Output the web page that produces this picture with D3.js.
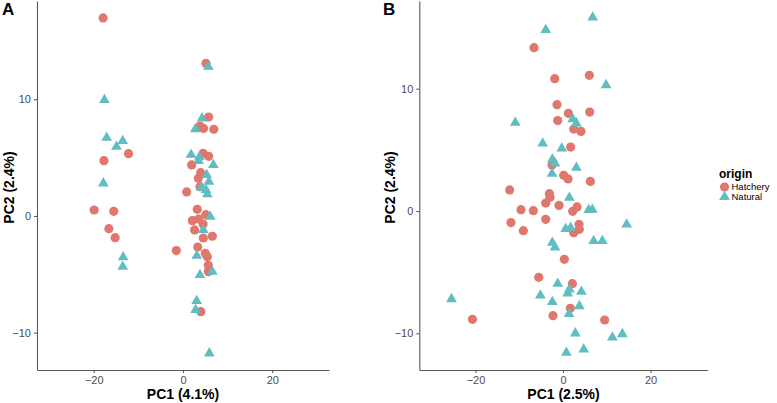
<!DOCTYPE html>
<html>
<head>
<meta charset="utf-8">
<script src="https://cdn.jsdelivr.net/npm/d3@7"></script>
<style>
  html, body { margin: 0; padding: 0; background: #fff; }
  svg { display: block; font-family: "Liberation Sans", Arial, Helvetica, sans-serif; }
</style>
</head>
<body>
<svg id="chart" width="777" height="403"></svg>
<script>
// ---------- data ----------
const panelLabels = ["A", "B"];
const xTitles = ["PC1 (4.1%)", "PC1 (2.5%)"];
const yTitles = ["PC2 (2.4%)", "PC2 (2.4%)"];
const xTicks = [-20, 0, 20];
const yTicks = [-10, 0, 10];
const groups = ["Hatchery", "Natural"];
const legendTitle = "origin";

const hatcheryA = [
  [-17.9,16.97],[5.15,13.08],[5.75,8.48],[3.8,7.7],[4.6,7.5],[6.9,7.43],
  [-17.7,4.74],[-12.2,5.34],[4.5,5.37],[5.75,5.11],[1.94,4.37],[3.96,3.71],
  [3.43,3.23],[3.8,2.51],[0.82,2.06],[-19.9,0.51],[-15.5,0.4],[3.2,0.57],
  [2.1,-0.4],[3.5,-0.26],[5.1,0.11],[4.5,-0.69],[2.6,-1.2],[-16.6,-1.09],
  [-15.2,-1.86],[4.55,-1.89],[6.57,-1.74],[-1.5,-2.97],[3.3,-2.66],[5.0,-3.2],
  [5.45,-3.49],[5.67,-4.23],[5.67,-4.77],[4.0,-8.2]
];
const naturalA = [
  [5.67,12.8],[-17.6,9.94],[4.26,8.37],[2.76,7.43],[-17.1,6.71],[-13.5,6.43],
  [-14.9,5.94],[1.8,5.25],[3.5,4.71],[3.65,5.03],[6.8,4.37],[5.3,3.51],[5.8,2.94],
  [-17.85,2.8],[4.1,2.43],[5.15,2.23],[5.45,1.86],[6.1,-0.06],[4.55,-1.2],
  [-13.4,-3.54],[-13.5,-4.34],[3.1,-3.4],[6.57,-4.77],[3.8,-5.06],
  [3.06,-7.28],[2.83,-8.05],[5.9,-11.77]
];
const hatcheryB = [
  [-6.63,13.35],[6.02,11.09],[-1.9,10.82],[-1.37,8.69],[6.1,8.09],[1.22,7.99],
  [-1.22,7.39],[2.44,6.7],[4.11,6.51],[1.75,5.23],[-2.51,3.76],[0.15,2.92],
  [1.14,2.62],[6.25,2.42],[-12.2,1.72],[-3.12,1.42],[-2.97,1.12],[-3.96,0.65],
  [-0.91,0.46],[-9.6,0.11],[-6.78,0.03],[3.2,0.33],[2.21,-0.03],[-3.96,-0.68],
  [-11.9,-0.95],[3.66,-1.09],[3.73,-1.5],[2.44,-1.77],[-9.07,-1.61],[0.3,-3.95],
  [-5.56,-5.42],[2.13,-5.94],[1.67,-7.96],[-2.29,-8.56],[-20.7,-8.86],[9.52,-8.91]
];
const naturalB = [
  [6.78,15.83],[-3.96,14.8],[9.83,10.3],[-10.9,7.22],[2.21,7.52],[3.05,7.17],
  [-4.65,5.53],[-0.3,5.12],[-2.44,4.22],[-1.83,3.9],[3.05,3.54],[-2.51,3.05],
  [1.45,1.09],[5.87,0.08],[6.7,0.11],[14.55,-1.09],[0.61,-1.47],[1.75,-1.36],
  [7.0,-2.45],[8.99,-2.45],[-2.44,-2.59],[-1.83,-2.97],[-1.22,-5.94],[1.45,-6.4],
  [1.07,-6.73],[4.19,-6.6],[-25.5,-7.2],[-5.18,-6.9],[-2.44,-7.44],[3.73,-7.77],
  [1.37,-8.42],[2.82,-10.0],[11.28,-10.33],[13.56,-10.06],[4.72,-11.31],[0.76,-11.58]
];
const xDomains = [[-32.7, 32.7], [-32.85, 33.07]];
const yDomains = [[-13.2, 18.42], [-13.0, 17.17]];

// ---------- styling / layout ----------
const colors = { Hatchery: "#DF776C", Natural: "#60BDC1" };
const axisColor = "#5a5a5a";
const tickTextColor = "#4d4d4d";
const circleR = 4.6;
const triSize = 50;

const panels = [
  { left: 37, right: 329, top: 1, bottom: 370, labelX: 2, yTitleX: 9,
    hatch: hatcheryA, nat: naturalA },
  { left: 419.3, right: 707.7, top: 1, bottom: 370, labelX: 383, yTitleX: 390,
    hatch: hatcheryB, nat: naturalB }
];

const svg = d3.select("#chart");
const triPath = d3.symbol().type(d3.symbolTriangle).size(triSize)();

panels.forEach((p, i) => {
  const x = d3.scaleLinear().domain(xDomains[i]).range([p.left, p.right]);
  const y = d3.scaleLinear().domain(yDomains[i]).range([p.bottom, p.top]);
  const g = svg.append("g");

  // axes
  const xa = g.append("g").attr("transform", `translate(0,${p.bottom})`)
    .call(d3.axisBottom(x).tickValues(xTicks).tickSize(3).tickPadding(3).tickSizeOuter(0));
  const ya = g.append("g").attr("transform", `translate(${p.left},0)`)
    .call(d3.axisLeft(y).tickValues(yTicks).tickSize(3).tickPadding(3).tickSizeOuter(0));
  [xa, ya].forEach(a => {
    a.select(".domain").attr("stroke", axisColor).attr("stroke-width", 1.1);
    a.selectAll(".tick line").attr("stroke", axisColor).attr("stroke-width", 1.1);
    a.selectAll(".tick text").attr("fill", tickTextColor)
      .style("font-size", "11px").style("font-family", "'Liberation Sans', Arial, sans-serif");
  });

  // points
  g.append("g").selectAll("circle").data(p.hatch).join("circle")
    .attr("cx", d => x(d[0])).attr("cy", d => y(d[1]))
    .attr("r", circleR).attr("fill", colors.Hatchery);
  g.append("g").selectAll("path").data(p.nat).join("path")
    .attr("d", triPath)
    .attr("transform", d => `translate(${x(d[0])},${y(d[1])})`)
    .attr("fill", colors.Natural);

  // titles
  g.append("text").attr("x", (p.left + p.right) / 2).attr("y", 399)
    .attr("text-anchor", "middle").attr("font-weight", "bold").attr("font-size", 14)
    .text(xTitles[i]);
  g.append("text")
    .attr("transform", `translate(${p.yTitleX + 5},${(p.top + p.bottom) / 2 + 2}) rotate(-90)`)
    .attr("text-anchor", "middle").attr("font-weight", "bold").attr("font-size", 14)
    .text(yTitles[i]);
  g.append("text").attr("x", p.labelX).attr("y", 15)
    .attr("font-weight", "bold").attr("font-size", 17)
    .text(panelLabels[i]);
});

// legend
const lg = svg.append("g");
lg.append("text").attr("x", 719).attr("y", 178)
  .attr("font-weight", "bold").attr("font-size", 12).text(legendTitle);
groups.forEach((name, k) => {
  const cy = 187 + k * 10;
  if (k === 0) {
    lg.append("circle").attr("cx", 724.5).attr("cy", cy).attr("r", circleR).attr("fill", colors[name]);
  } else {
    lg.append("path").attr("d", triPath).attr("transform", `translate(724.5,${cy})`).attr("fill", colors[name]);
  }
  lg.append("text").attr("x", 731.5).attr("y", cy + 3.3)
    .attr("font-size", 9.5).attr("fill", "#000").text(name);
});
</script>
</body>
</html>
